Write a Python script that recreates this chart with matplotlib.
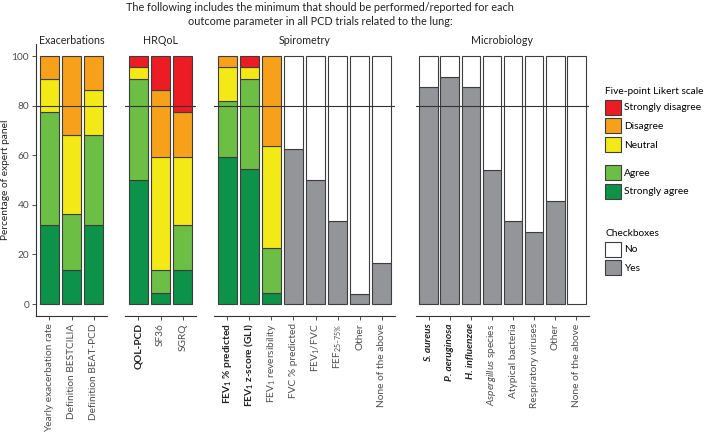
import matplotlib
matplotlib.use("Agg")
import matplotlib.pyplot as plt
from matplotlib.patches import Patch

plt.rcParams['font.family'] = ['Lato', 'DejaVu Sans']
plt.rcParams['mathtext.fontset'] = 'custom'
plt.rcParams['mathtext.rm'] = 'Lato'
plt.rcParams['mathtext.it'] = 'Lato:italic'
plt.rcParams['mathtext.bf'] = 'Lato:bold'
plt.rcParams['mathtext.default'] = 'regular'

panels = ["Exacerbations", "HRQoL", "Spirometry", "Microbiology"]

# Likert-scale items (percent of panel)
likert_items = ["Yearly exacerbation rate", "Definition BESTCILIA", "Definition BEAT-PCD",
                "QOL-PCD", "SF36", "SGRQ",
                r"FEV$_\mathbf{1}$ % predicted", r"FEV$_\mathbf{1}$ z-score (GLI)", r"FEV$_1$ reversibility"]
likert_panel = [0, 0, 0, 1, 1, 1, 2, 2, 2]
likert_bold = [False, False, False, True, False, False, True, True, False]
strongly_agree = [31.8, 13.6, 31.8, 50.0, 4.5, 13.6, 59.1, 54.5, 4.5]
agree = [45.5, 22.7, 36.4, 40.9, 9.1, 18.2, 22.7, 36.4, 18.2]
neutral = [13.6, 31.8, 18.2, 4.5, 45.5, 27.3, 13.6, 4.5, 40.9]
disagree = [9.1, 31.8, 13.6, 0.0, 27.3, 18.2, 4.5, 0.0, 36.4]
strongly_disagree = [0.0, 0.0, 0.0, 4.5, 13.6, 22.7, 0.0, 4.5, 0.0]

# Checkbox items (percent of panel)
check_items = ["FVC % predicted", r"FEV$_1$/FVC", r"FEF$_{25–75\%}$", "Other", "None of the above",
               "S. aureus", "P. aeruginosa", "H. influenzae", r"$\mathit{Aspergillus}$ species",
               "Atypical bacteria", "Respiratory viruses", "Other", "None of the above"]
check_panel = [2, 2, 2, 2, 2, 3, 3, 3, 3, 3, 3, 3, 3]
check_bold = [False, False, False, False, False, True, True, True, False, False, False, False, False]
check_italic = [False, False, False, False, False, True, True, True, False, False, False, False, False]
yes = [62.5, 50.0, 33.3, 4.2, 16.7, 87.5, 91.7, 87.5, 54.2, 33.3, 29.2, 41.7, 0.0]
no = [37.5, 50.0, 66.7, 95.8, 83.3, 12.5, 8.3, 12.5, 45.8, 66.7, 70.8, 58.3, 100.0]

yticks = [0, 20, 40, 60, 80, 100]

c_sa = '#0D9249'
c_a = '#6CBE45'
c_n = '#F2E916'
c_d = '#F7A11A'
c_sd = '#ED1C24'
c_yes = '#939598'
c_no = '#FFFFFF'
edge = '#3d3d3d'
txt = '#4d4d4d'
fs = 7.3

W, H = 707, 438
fig = plt.figure(figsize=(W / 100, H / 100), dpi=100)

panel_px = [(36, 107), (125, 196), (214, 395), (416, 589)]
bottom = 1 - 316.4 / H
height = (316.4 - 43.6) / H
axes = [fig.add_axes([l / W, bottom, (r - l) / W, height]) for l, r in panel_px]

labels = [[] for _ in panels]
bw = 0.88

for i, lab in enumerate(likert_items):
    p = likert_panel[i]
    ax = axes[p]
    x = len(labels[p])
    labels[p].append((lab, likert_bold[i], False))
    base = 0
    for vals, col in [(strongly_agree, c_sa), (agree, c_a), (neutral, c_n),
                      (disagree, c_d), (strongly_disagree, c_sd)]:
        v = vals[i]
        if v > 0:
            ax.bar(x, v, bottom=base, width=bw, color=col, edgecolor=edge, linewidth=0.8, zorder=2)
        base += v

for i, lab in enumerate(check_items):
    p = check_panel[i]
    ax = axes[p]
    x = len(labels[p])
    labels[p].append((lab, check_bold[i], check_italic[i]))
    if yes[i] > 0:
        ax.bar(x, yes[i], width=bw, color=c_yes, edgecolor=edge, linewidth=0.8, zorder=2)
    ax.bar(x, no[i], bottom=yes[i], width=bw, color=c_no, edgecolor=edge, linewidth=0.8, zorder=2)

for p, ax in enumerate(axes):
    n = len(labels[p])
    ax.set_xlim(-0.6, n - 0.4)
    ax.set_ylim(-5, 105)
    ax.axhline(80, color='#333333', linewidth=0.8, zorder=3)
    for s in ['top', 'right']:
        ax.spines[s].set_visible(False)
    ax.spines['bottom'].set_color('#333333')
    ax.spines['bottom'].set_linewidth(0.8)
    ax.set_xticks(range(n))
    ax.set_xticklabels([l[0] for l in labels[p]], rotation=90, fontsize=fs, color=txt)
    for t, (lab, b, it) in zip(ax.get_xticklabels(), labels[p]):
        if b:
            t.set_fontweight('bold')
            t.set_color('#222222')
        if it:
            t.set_fontstyle('italic')
    ax.tick_params(axis='x', length=3, width=0.6, color='#333333', pad=2)
    ax.text(0.5, 1.0, panels[p], transform=ax.transAxes, ha='center', va='baseline',
            fontsize=7.7, color='#222222')
    if p == 0:
        ax.set_yticks(yticks)
        ax.tick_params(axis='y', length=3, width=0.6, color='#333333', labelsize=fs, labelcolor=txt, pad=2)
        ax.spines['left'].set_color('#333333')
        ax.spines['left'].set_linewidth(0.8)
        ax.set_ylabel("Percentage of expert panel", fontsize=fs, color='#222222')
        ax.yaxis.set_label_coords(-0.36, 0.5)
    else:
        ax.spines['left'].set_visible(False)
        ax.set_yticks([])

fig.text(320 / W, 1 - 2 / H,
         "The following includes the minimum that should be performed/reported for each\n"
         "outcome parameter in all PCD trials related to the lung:",
         ha='center', va='top', fontsize=7.8, color='#222222', linespacing=1.3)

lkw = dict(frameon=False, fontsize=fs, title_fontsize=fs, handlelength=1.6, handleheight=1.9,
           labelspacing=0.36, handletextpad=0.3, borderpad=0, borderaxespad=0,
           loc='upper left', alignment='left')
h1 = [Patch(facecolor=c, edgecolor=edge, linewidth=0.8) for c in [c_sd, c_d, c_n]]
fig.legend(h1, ["Strongly disagree", "Disagree", "Neutral"], title="Five-point Likert scale",
           bbox_to_anchor=(605 / W, 1 - 87 / H), **lkw)
h2 = [Patch(facecolor=c, edgecolor=edge, linewidth=0.8) for c in [c_a, c_sa]]
fig.legend(h2, ["Agree", "Strongly agree"], bbox_to_anchor=(605 / W, 1 - 165 / H), **lkw)
h3 = [Patch(facecolor=c, edgecolor=edge, linewidth=0.8) for c in [c_no, c_yes]]
fig.legend(h3, ["No", "Yes"], title="Checkboxes", bbox_to_anchor=(605 / W, 1 - 229 / H), **lkw)

fig.savefig("out.png", dpi=100)
